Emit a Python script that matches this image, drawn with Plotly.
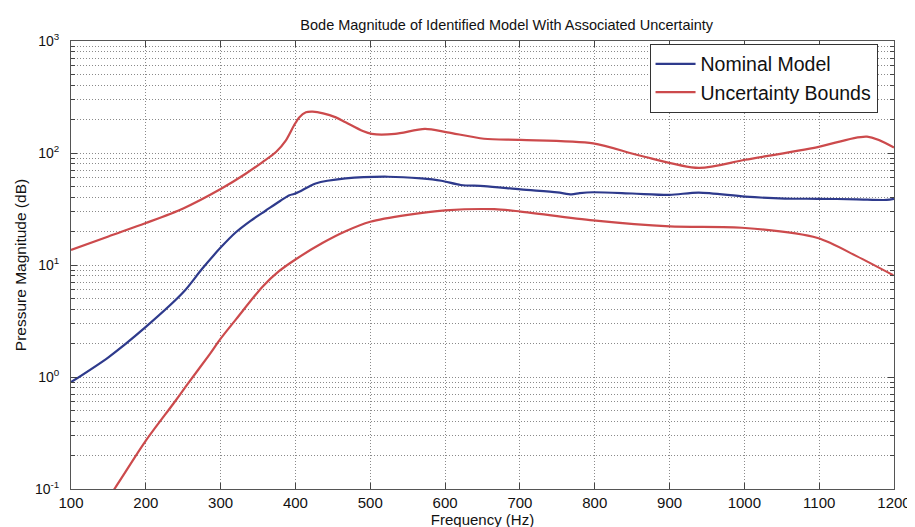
import plotly.graph_objects as go

# ---- data ----
freq_nom = [100, 150, 200, 250, 275, 300, 320, 340, 360, 380, 392, 398, 405, 427, 467, 524, 568, 595,
            621, 652, 701, 750, 769, 780, 798, 850, 900, 939, 1001, 1054, 1098, 1150, 1190, 1200]
mag_nom = [0.9, 1.5, 2.8, 5.7, 9.2, 14.3, 19.5, 24.8, 30.5, 37.5, 42, 43, 45, 53.5, 59.3, 61.4, 59.3,
           56.5, 51.8, 50.7, 47.3, 44.5, 42.8, 43.8, 44.6, 43.5, 42.3, 44.3, 40.8, 39.2, 39, 38.6, 38.1, 39]

freq_up = [100, 150, 200, 250, 300, 334, 356, 374, 387, 398, 405, 414, 423, 437, 454, 467, 490,
           502, 533, 573, 603, 652, 701, 798, 860, 939, 1001, 1098, 1164, 1200]
mag_up = [13.6, 18, 23.7, 32, 47.7, 65.6, 83, 102, 129, 176, 208, 231, 234, 226, 208, 188, 157,
          148, 148, 164, 153, 134, 131, 122, 95, 73.6, 87, 113, 140, 112]

freq_lo = [140, 158, 200, 237, 255, 286, 300, 321, 356, 378, 400, 436, 467, 500, 550, 600, 666, 701,
           798, 900, 1001, 1098, 1150, 1199]
mag_lo = [0.068, 0.1, 0.27, 0.58, 0.85, 1.62, 2.2, 3.3, 6.4, 8.8, 11.2, 15.7, 20, 24.3, 28, 30.7,
          31.5, 30, 25, 22.1, 21.4, 17.4, 12, 8.1]

x_ticks = [100, 200, 300, 400, 500, 600, 700, 800, 900, 1000, 1100, 1200]
decades = [-1, 0, 1, 2, 3]

blue = "#2e3a8c"
red = "#cc4a4c"

fig = go.Figure()
fig.add_trace(go.Scatter(x=freq_nom, y=mag_nom, mode="lines", name="Nominal Model",
                         line=dict(color=blue, width=2.2, shape="spline", smoothing=0.8)))
fig.add_trace(go.Scatter(x=freq_up, y=mag_up, mode="lines", name="Uncertainty Bounds",
                         line=dict(color=red, width=2.2, shape="spline", smoothing=0.8)))
fig.add_trace(go.Scatter(x=freq_lo, y=mag_lo, mode="lines", name="Uncertainty Bounds lower",
                         showlegend=False,
                         line=dict(color=red, width=2.2, shape="spline", smoothing=0.8)))

yvals = [10 ** d for d in decades]
ytext = [f"10<sup>{d}</sup>" for d in decades]
yminor = [m * 10 ** d for d in decades[:-1] for m in range(2, 10)]

font = "Arial, Liberation Sans, sans-serif"
grid = dict(showgrid=True, gridcolor="#8a8a8a", griddash="1px,2px", gridwidth=1)
fig.update_layout(
    width=915, height=527,
    margin=dict(l=63, r=21, t=33, b=42),
    paper_bgcolor="white", plot_bgcolor="white",
    font=dict(family=font, color="#111111"),
    title=dict(text="Bode Magnitude of Identified Model With Associated Uncertainty",
               x=0.545, xanchor="center", y=0.968, yanchor="middle",
               font=dict(size=14.5, family=font, color="#111111")),
    showlegend=True,
    legend=dict(x=0.98, xanchor="right", y=0.994, yanchor="top",
                bgcolor="white", bordercolor="#333333", borderwidth=1,
                font=dict(size=19.5, family=font, color="#111111"),
                itemwidth=40, tracegroupgap=0),
    xaxis=dict(range=[100, 1200], tickvals=x_ticks, ticktext=[str(v) for v in x_ticks],
               **grid,
               ticks="inside", ticklen=6, tickcolor="#444444",
               showline=True, linecolor="#555555", linewidth=1, mirror="ticks",
               tickfont=dict(size=15), zeroline=False,
               title=dict(text="Frequency (Hz)", font=dict(size=15), standoff=1)),
    yaxis=dict(type="log", range=[-1, 3], tickvals=yvals, ticktext=ytext,
               **grid,
               ticks="inside", ticklen=6, tickcolor="#444444",
               ticklabelstandoff=8,
               minor=dict(tickmode="array", tickvals=yminor, showgrid=True, gridcolor="#8a8a8a",
                          griddash="1px,2px", gridwidth=1, ticks="inside", ticklen=4,
                          tickcolor="#444444"),
               showline=True, linecolor="#555555", linewidth=1, mirror="ticks",
               tickfont=dict(size=14), zeroline=False,
               title=dict(text="Pressure Magnitude (dB)", font=dict(size=15.5), standoff=4)),
)

fig.write_html("out.html")
